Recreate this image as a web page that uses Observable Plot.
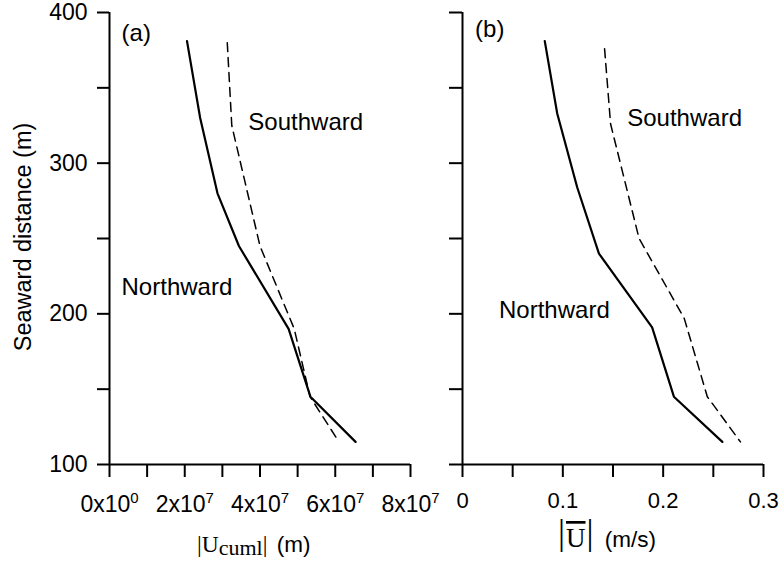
<!DOCTYPE html>
<html>
<head>
<meta charset="utf-8">
<script src="https://cdn.jsdelivr.net/npm/d3@7"></script>
<script src="https://cdn.jsdelivr.net/npm/@observablehq/plot@0.6"></script>
<style>
  html, body { margin: 0; padding: 0; background: white; }
  #chart { position: relative; width: 782px; height: 565px; background: white; }
  #chart svg { position: absolute; left: 0; top: 0; }
</style>
</head>
<body>
<div id="chart"></div>
<script>
// ---- Data ----
// Panel (a): cumulative |U_cuml| (m) vs seaward distance (m)
const distA_north = [381, 330, 280, 245, 190, 145, 115];
const uA_north    = [2.06e7, 2.41e7, 2.87e7, 3.44e7, 4.76e7, 5.34e7, 6.54e7];
const distA_south = [380, 325, 245, 190, 145, 115];
const uA_south    = [3.13e7, 3.25e7, 4.0e7, 4.91e7, 5.33e7, 6.1e7];

// Panel (b): |mean U| (m/s) vs seaward distance (m)
const distB_north = [381, 333, 284, 240, 191, 145, 115];
const uB_north    = [0.082, 0.0944, 0.1143, 0.136, 0.189, 0.2107, 0.259];
const distB_south = [376, 326, 250, 197, 145, 115];
const uB_south    = [0.1416, 0.1476, 0.176, 0.221, 0.244, 0.277];

// Axis ticks and labels
const yTicks = [100, 150, 200, 250, 300, 350, 400];
const yTickLabels = ["100", "", "200", "", "300", "", "400"];
const xTicksA = [0, 1e7, 2e7, 3e7, 4e7, 5e7, 6e7, 7e7, 8e7];
const xTickLabelsA = ["0x10^0", "", "2x10^7", "", "4x10^7", "", "6x10^7", "", "8x10^7"];
const xTicksB = [0, 0.05, 0.1, 0.15, 0.2, 0.25, 0.3];
const xTickLabelsB = ["0", "", "0.1", "", "0.2", "", "0.3"];

// Annotations
const annoTextA = ["(a)", "Southward", "Northward"];
const annoXA = [0.32e7, 3.69e7, 0.32e7];
const annoYA = [386.3, 327.3, 217.8];
const annoTextB = ["(b)", "Southward", "Northward"];
const annoXB = [0.0125, 0.1642, 0.0364];
const annoYB = [388.7, 330.1, 202.5];

// ---- Build tables ----
const toRows = (xs, ys) => xs.map((x, i) => ({x, y: ys[i]}));
const northA = toRows(uA_north, distA_north);
const southA = toRows(uA_south, distA_south);
const northB = toRows(uB_north, distB_north);
const southB = toRows(uB_south, distB_south);
const annoA = annoTextA.map((t, i) => ({t, x: annoXA[i], y: annoYA[i]}));
const annoB = annoTextB.map((t, i) => ({t, x: annoXB[i], y: annoYB[i]}));
const yLab = new Map(yTicks.map((t, i) => [t, yTickLabels[i]]));
const xLabA = new Map(xTicksA.map((t, i) => [t, xTickLabelsA[i]]));
const xLabB = new Map(xTicksB.map((t, i) => [t, xTickLabelsB[i]]));

const SANS = "'Liberation Sans', Arial, Helvetica, sans-serif";
const SERIF = "'Liberation Serif', 'Times New Roman', serif";
const W = 782, H = 565, MT = 12, MB = 101;
const commonStyle = {background: "transparent", fontFamily: SANS, fontSize: "23px", color: "black", overflow: "visible"};

function lineMarks(north, south) {
  return [
    Plot.line(north, {x: "x", y: "y", stroke: "black", strokeWidth: 2.2}),
    Plot.line(south, {x: "x", y: "y", stroke: "black", strokeWidth: 1.5, strokeDasharray: "9,6"})
  ];
}

const svgA = Plot.plot({
  width: W, height: H,
  marginLeft: 109, marginRight: W - 410, marginTop: MT, marginBottom: MB,
  style: commonStyle,
  x: {domain: [0, 8e7]},
  y: {domain: [100, 400]},
  marks: [
    Plot.axisY({ticks: yTicks, tickSize: 12, tickPadding: 10, tickFormat: d => yLab.get(d), fontSize: 23, stroke: "black", strokeWidth: 2, label: null}),
    Plot.axisX({ticks: xTicksA, tickSize: 13, tickPadding: 18.4, tickFormat: d => xLabA.get(d), fontSize: 23, stroke: "black", strokeWidth: 2, label: null}),
    Plot.ruleX([0], {stroke: "black", strokeWidth: 2}),
    Plot.ruleY([100], {stroke: "black", strokeWidth: 2}),
    ...lineMarks(northA, southA),
    Plot.text(annoA, {x: "x", y: "y", text: "t", textAnchor: "start", fontSize: 24, fill: "black"})
  ]
});

const svgB = Plot.plot({
  width: W, height: H,
  marginLeft: 462, marginRight: W - 763, marginTop: MT, marginBottom: MB,
  style: commonStyle,
  x: {domain: [0, 0.3]},
  y: {domain: [100, 400]},
  marks: [
    Plot.axisY({ticks: yTicks, tickSize: 13, tickFormat: () => "", stroke: "black", strokeWidth: 2, label: null}),
    Plot.axisX({ticks: xTicksB, tickSize: 13, tickPadding: 14.7, tickFormat: d => xLabB.get(d), fontSize: 22, stroke: "black", strokeWidth: 2, label: null}),
    Plot.ruleX([0], {stroke: "black", strokeWidth: 2}),
    Plot.ruleY([100], {stroke: "black", strokeWidth: 2}),
    ...lineMarks(northB, southB),
    Plot.text(annoB, {x: "x", y: "y", text: "t", textAnchor: "start", fontSize: 24, fill: "black"})
  ]
});

// Superscripts for panel (a) tick labels
d3.select(svgA).selectAll('g[aria-label="x-axis tick label"] text').each(function () {
  const t = this.textContent;
  if (t.includes("^")) {
    const [base, exp] = t.split("^");
    this.textContent = base;
    d3.select(this).append("tspan").attr("dy", -9).attr("font-size", 15).text(exp);
  }
});

// Y axis title
d3.select(svgA).append("text")
  .attr("transform", "translate(30.5,237) rotate(-90)")
  .attr("text-anchor", "middle")
  .attr("font-family", SANS).attr("font-size", 23.5).attr("fill", "black")
  .text("Seaward distance (m)");

// X axis title (a): |U_cuml| (m)
{
  const t = d3.select(svgA).append("text")
    .attr("x", 197).attr("y", 551.7).attr("text-anchor", "start")
    .attr("font-family", SERIF).attr("font-size", 23.5).attr("fill", "black");
  t.append("tspan").text("|U");
  t.append("tspan").attr("font-size", 22).attr("dy", 3.5).text("cuml");
  t.append("tspan").attr("dy", -3.5).text("|");
  t.append("tspan").attr("font-family", SANS).attr("font-size", 22.5).attr("dx", 3).text(" (m)");
}

// X axis title (b): |Ū| (m/s)
{
  const t = d3.select(svgB).append("text")
    .attr("x", 558).attr("y", 547).attr("text-anchor", "start")
    .attr("font-family", SERIF).attr("font-size", 27).attr("fill", "black");
  t.append("tspan").attr("font-size", 35).attr("dy", -3).text("|");
  t.append("tspan").attr("dy", 3).attr("dx", 1).style("text-decoration", "overline").text("U");
  t.append("tspan").attr("font-size", 35).attr("dy", -3).attr("dx", 1).text("|");
  t.append("tspan").attr("font-family", SANS).attr("font-size", 22.5).attr("dy", 3).attr("dx", 5).text(" (m/s)");
}

document.getElementById("chart").append(svgA, svgB);
</script>
</body>
</html>
